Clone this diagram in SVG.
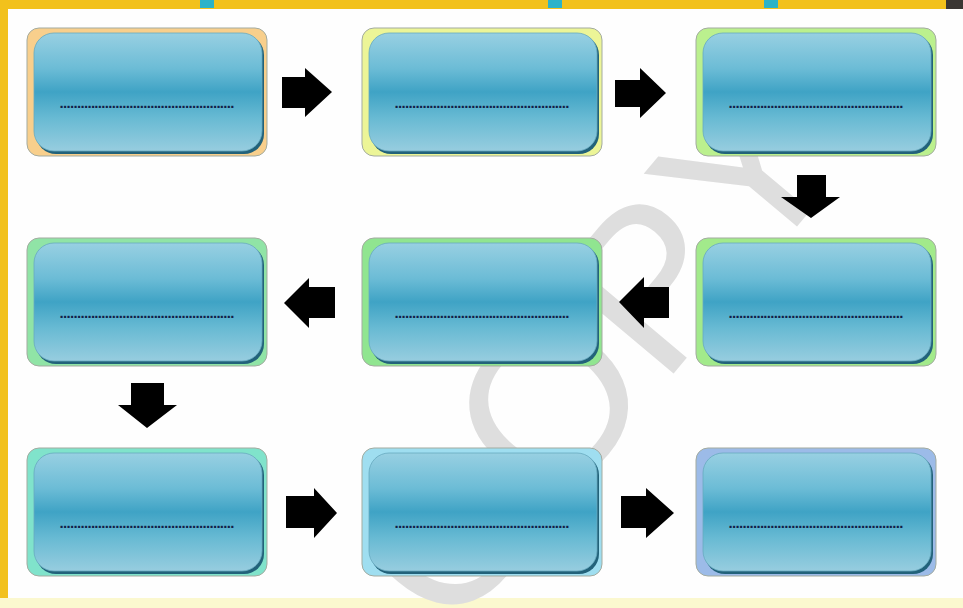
<svg xmlns="http://www.w3.org/2000/svg" width="963" height="608" viewBox="0 0 963 608">
<defs>
<linearGradient id="blue" x1="0" y1="0" x2="0" y2="1">
<stop offset="0" stop-color="#98d0e2"/>
<stop offset="0.3" stop-color="#6cbcd6"/>
<stop offset="0.5" stop-color="#3fa3c5"/>
<stop offset="0.72" stop-color="#68bad3"/>
<stop offset="1" stop-color="#97cddf"/>
</linearGradient>
<style>
.back{stroke:#a3aba0;stroke-width:1}
.shadow{fill:#22627a}
.inner{fill:url(#blue);stroke:#67a9bf;stroke-width:0.8}
.dots{font-family:"Liberation Sans",Arial,sans-serif;font-size:15px;font-weight:bold;fill:#121f48}
.arrow{fill:#000}
.wm{font-family:"Liberation Sans",Arial,sans-serif;font-size:220px;fill:#dedede}
</style>
</defs>
<rect x="0" y="0" width="963" height="608" fill="#fefefe"/>
<!-- frame -->
<rect x="0" y="0" width="963" height="9" fill="#f2c11c"/>
<rect x="0" y="0" width="8" height="600" fill="#f2c11c"/>
<rect x="0" y="598" width="963" height="10" fill="#fbf8cf"/>
<rect x="200" y="0" width="14" height="8" fill="#2cb3c8"/>
<rect x="548" y="0" width="14" height="8" fill="#2cb3c8"/>
<rect x="764" y="0" width="14" height="8" fill="#2cb3c8"/>
<rect x="946" y="0" width="17" height="9" fill="#3a3633"/>
<!-- watermark -->
<text class="wm" transform="translate(450,640) rotate(-50)">COPY</text>
<g id="connectors">
<polygon class="arrow" points="282,77 305,77 305,68 332,92 305,117 305,108 282,108"/>
<polygon class="arrow" points="615,80 640,80 640,68 666,93 640,118 640,107 615,107"/>
<polygon class="arrow" points="797,175 826,175 826,197 840,197 811,218 781,197 797,197"/>
<polygon class="arrow" points="669,287 644,287 644,277 619,302 644,328 644,318 669,318"/>
<polygon class="arrow" points="335,287 309,287 309,278 284,303 309,328 309,318 335,318"/>
<polygon class="arrow" points="131,383 164,383 164,405 177,405 147,428 118,405 131,405"/>
<polygon class="arrow" points="286,496 314,496 314,488 337,513 314,538 314,528 286,528"/>
<polygon class="arrow" points="621,496 646,496 646,488 674,513 646,538 646,528 621,528"/>
</g>
<g id="n1" transform="translate(27,28)">
<rect class="back" width="240" height="128" rx="12" fill="#f8cf8c"/>
<rect class="shadow" x="9" y="7" width="228" height="119" rx="20"/>
<rect class="inner" x="7" y="5" width="228" height="118" rx="20"/>
<text class="dots" x="120" y="80" text-anchor="middle" textLength="175" lengthAdjust="spacing">..................................................</text>
</g>
<g id="n2" transform="translate(362,28)">
<rect class="back" width="240" height="128" rx="12" fill="#ecf597"/>
<rect class="shadow" x="9" y="7" width="228" height="119" rx="20"/>
<rect class="inner" x="7" y="5" width="228" height="118" rx="20"/>
<text class="dots" x="120" y="80" text-anchor="middle" textLength="175" lengthAdjust="spacing">..................................................</text>
</g>
<g id="n3" transform="translate(696,28)">
<rect class="back" width="240" height="128" rx="12" fill="#bbf08e"/>
<rect class="shadow" x="9" y="7" width="228" height="119" rx="20"/>
<rect class="inner" x="7" y="5" width="228" height="118" rx="20"/>
<text class="dots" x="120" y="80" text-anchor="middle" textLength="175" lengthAdjust="spacing">..................................................</text>
</g>
<g id="n4" transform="translate(696,238)">
<rect class="back" width="240" height="128" rx="12" fill="#a2ea8b"/>
<rect class="shadow" x="9" y="7" width="228" height="119" rx="20"/>
<rect class="inner" x="7" y="5" width="228" height="118" rx="20"/>
<text class="dots" x="120" y="80" text-anchor="middle" textLength="175" lengthAdjust="spacing">..................................................</text>
</g>
<g id="n5" transform="translate(362,238)">
<rect class="back" width="240" height="128" rx="12" fill="#90e590"/>
<rect class="shadow" x="9" y="7" width="228" height="119" rx="20"/>
<rect class="inner" x="7" y="5" width="228" height="118" rx="20"/>
<text class="dots" x="120" y="80" text-anchor="middle" textLength="175" lengthAdjust="spacing">..................................................</text>
</g>
<g id="n6" transform="translate(27,238)">
<rect class="back" width="240" height="128" rx="12" fill="#90e4a6"/>
<rect class="shadow" x="9" y="7" width="228" height="119" rx="20"/>
<rect class="inner" x="7" y="5" width="228" height="118" rx="20"/>
<text class="dots" x="120" y="80" text-anchor="middle" textLength="175" lengthAdjust="spacing">..................................................</text>
</g>
<g id="n7" transform="translate(27,448)">
<rect class="back" width="240" height="128" rx="12" fill="#80e3cb"/>
<rect class="shadow" x="9" y="7" width="228" height="119" rx="20"/>
<rect class="inner" x="7" y="5" width="228" height="118" rx="20"/>
<text class="dots" x="120" y="80" text-anchor="middle" textLength="175" lengthAdjust="spacing">..................................................</text>
</g>
<g id="n8" transform="translate(362,448)">
<rect class="back" width="240" height="128" rx="12" fill="#9fdef0"/>
<rect class="shadow" x="9" y="7" width="228" height="119" rx="20"/>
<rect class="inner" x="7" y="5" width="228" height="118" rx="20"/>
<text class="dots" x="120" y="80" text-anchor="middle" textLength="175" lengthAdjust="spacing">..................................................</text>
</g>
<g id="n9" transform="translate(696,448)">
<rect class="back" width="240" height="128" rx="12" fill="#9cbbe8"/>
<rect class="shadow" x="9" y="7" width="228" height="119" rx="20"/>
<rect class="inner" x="7" y="5" width="228" height="118" rx="20"/>
<text class="dots" x="120" y="80" text-anchor="middle" textLength="175" lengthAdjust="spacing">..................................................</text>
</g>
</svg>
